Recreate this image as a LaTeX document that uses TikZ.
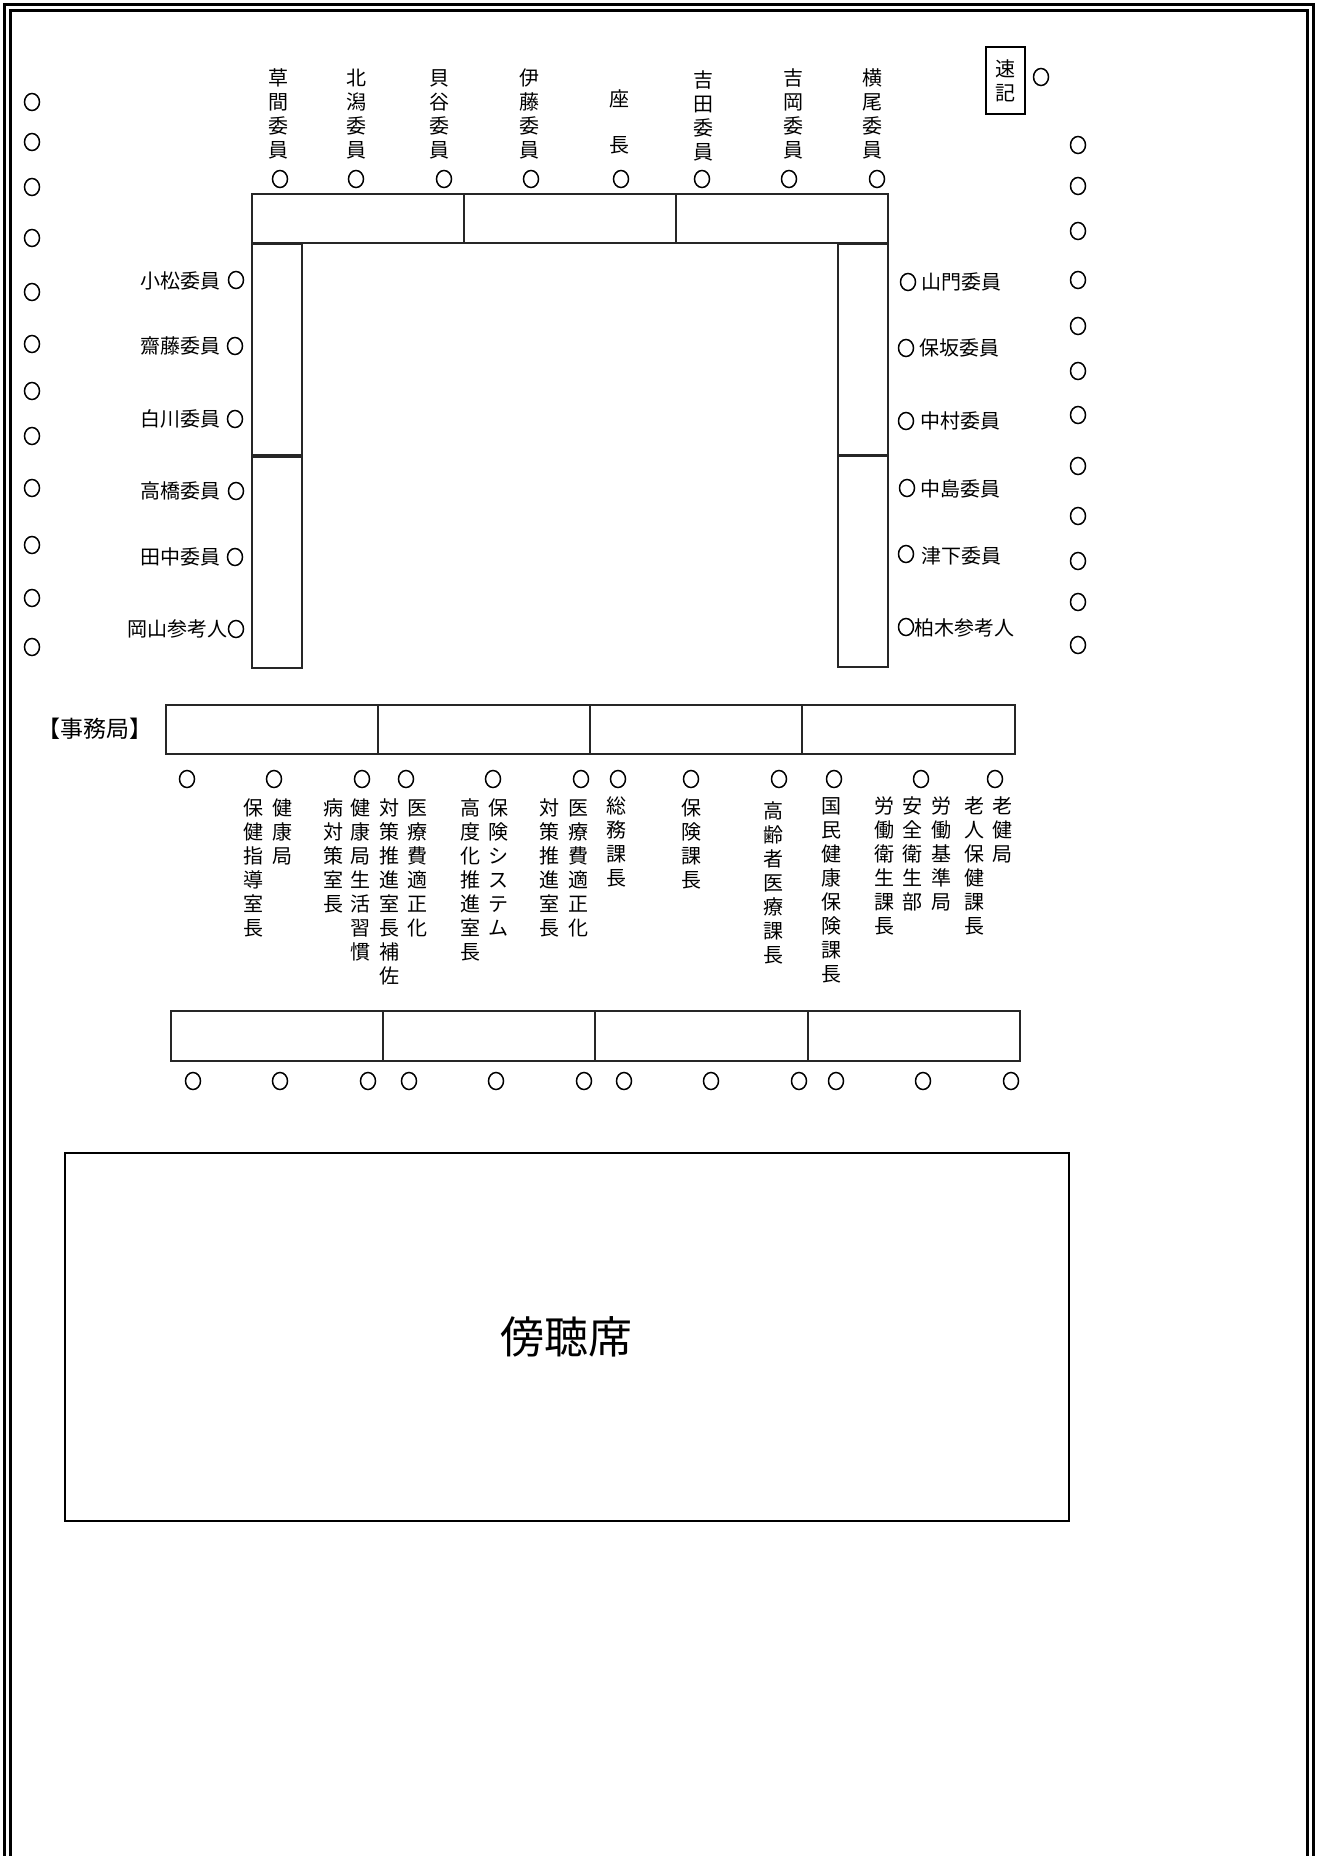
\documentclass[tikz,border=0pt]{standalone}
\usepackage{fontspec}
\setmainfont{Noto Sans CJK JP}
\usetikzlibrary{shapes.geometric}
\newcommand\vcol[4]{\foreach \ch [count=\i] in {#4}{\node[jp] (#1-\i) at (#2,{#3+24*(\i-1)}) {\ch};}}
\begin{document}
\begin{tikzpicture}[x=0.5pt,y=-0.5pt,
  jp/.style={inner sep=0pt, font=\fontsize{10pt}{12pt}\selectfont, text height=8.8pt, text depth=1.2pt},
  seat/.style={draw, ellipse, line width=0.75pt, minimum width=7.5pt, minimum height=8.5pt, inner sep=0pt},
  tbl/.style={draw=black!85, line width=0.75pt},
  frameline/.style={line width=1.5pt}]
\useasboundingbox (0,0) rectangle (1318,1856);
% frame
\draw[frameline] (4.5,1856) -- (4.5,4.5) -- (1313.5,4.5) -- (1313.5,1856);
\draw[frameline] (10.5,1856) -- (10.5,10.5) -- (1307.5,10.5) -- (1307.5,1856);
% tables
\draw[tbl] (252,194) rectangle (888,243);
\draw[tbl] (464,194) -- (464,243);
\draw[tbl] (676,194) -- (676,243);
\draw[tbl] (252,244) rectangle (302,455);
\draw[tbl] (252,457) rectangle (302,668);
\draw[tbl] (838,244) rectangle (888,455);
\draw[tbl] (838,456) rectangle (888,667);
\draw[tbl] (166,705) rectangle (1015,754);
\foreach \x in {378,590,802} \draw[tbl] (\x,705) -- (\x,754);
\draw[tbl] (171,1011) rectangle (1020,1061);
\foreach \x in {383,595,808} \draw[tbl] (\x,1011) -- (\x,1061);
\draw[line width=1pt] (65,1153) rectangle (1069,1521);
\node[inner sep=0pt, font=\fontsize{22pt}{26pt}\selectfont] (gallery) at (566,1337) {傍聴席};
% stenographer
\draw[line width=1pt] (986,47) rectangle (1025,114);
\node[jp] (sok1) at (1005,69) {速};
\node[jp] (sok2) at (1005,93) {記};
\node[seat] (soks) at (1041,77) {};
% top labels
\vcol{t1}{278}{78}{草,間,委,員}
\vcol{t2}{356}{78}{北,潟,委,員}
\vcol{t3}{439}{78}{貝,谷,委,員}
\vcol{t4}{529}{78}{伊,藤,委,員}
\node[jp] (chair1) at (619,99) {座};
\node[jp] (chair2) at (619,145) {長};
\vcol{t6}{703}{80}{吉,田,委,員}
\vcol{t7}{793}{78}{吉,岡,委,員}
\vcol{t8}{872}{78}{横,尾,委,員}
\foreach \x [count=\i] in {280,356,444,531,621,702,789,877} \node[seat] (ts\i) at (\x,179) {};
% left members
\node[jp,anchor=east] (l1) at (221,281) {小松委員};
\node[jp,anchor=east] (l2) at (221,346) {齋藤委員};
\node[jp,anchor=east] (l3) at (221,419) {白川委員};
\node[jp,anchor=east] (l4) at (221,491) {高橋委員};
\node[jp,anchor=east] (l5) at (221,557) {田中委員};
\node[jp,anchor=east] (l6) at (228,629) {岡山参考人};
\foreach \y/\x [count=\i] in {280/236,346/235,419/235,491/236,557/235,629/236} \node[seat] (ls\i) at (\x,\y) {};
% right members
\node[jp,anchor=west] (r1) at (921,282) {山門委員};
\node[jp,anchor=west] (r2) at (919,348) {保坂委員};
\node[jp,anchor=west] (r3) at (920,421) {中村委員};
\node[jp,anchor=west] (r4) at (920,489) {中島委員};
\node[jp,anchor=west] (r5) at (921,556) {津下委員};
\node[jp,anchor=west] (r6) at (914,628) {柏木参考人};
\foreach \y/\x [count=\i] in {282/908,348/906,421/906,488/907,554/906,627/906} \node[seat] (rs\i) at (\x,\y) {};
% wall seats
\foreach \y [count=\i] in {102,142,187,238,292,344,391,436,488,545,598,647} \node[seat] (lw\i) at (32,\y) {};
\foreach \y [count=\i] in {145,186,231,280,326,371,415,466,516,561,602,645} \node[seat] (rw\i) at (1078,\y) {};
% secretariat
\node[inner sep=0pt, font=\fontsize{11.5pt}{14pt}\selectfont, text height=10pt, text depth=1.5pt] (jimu) at (95,729) {【事務局】};
\foreach \x [count=\i] in {187,274,362,406,493,581,618,691,779,834,921,995} \node[seat] (ss\i) at (\x,779) {};
\vcol{s1a}{282}{808}{健,康,局}
\vcol{s1b}{253}{808}{保,健,指,導,室,長}
\vcol{s2a}{360}{808}{健,康,局,生,活,習,慣}
\vcol{s2b}{333}{808}{病,対,策,室,長}
\vcol{s3a}{417}{808}{医,療,費,適,正,化}
\vcol{s3b}{389}{808}{対,策,推,進,室,長,補,佐}
\vcol{s4a}{498}{808}{保,険,シ,ス,テ,ム}
\vcol{s4b}{470}{808}{高,度,化,推,進,室,長}
\vcol{s5a}{578}{808}{医,療,費,適,正,化}
\vcol{s5b}{549}{808}{対,策,推,進,室,長}
\vcol{s6}{616}{806}{総,務,課,長}
\vcol{s7}{691}{808}{保,険,課,長}
\vcol{s8}{773}{811}{高,齢,者,医,療,課,長}
\vcol{s9}{831}{806}{国,民,健,康,保,険,課,長}
\vcol{s10a}{1002}{806}{老,健,局}
\vcol{s10b}{974}{806}{老,人,保,健,課,長}
\vcol{s11a}{941}{806}{労,働,基,準,局}
\vcol{s11b}{912}{806}{安,全,衛,生,部}
\vcol{s11c}{884}{806}{労,働,衛,生,課,長}
% back row seats
\foreach \x [count=\i] in {193,280,368,409,496,584,624,711,799,836,923,1011} \node[seat] (bs\i) at (\x,1081) {};
\end{tikzpicture}
\end{document}
